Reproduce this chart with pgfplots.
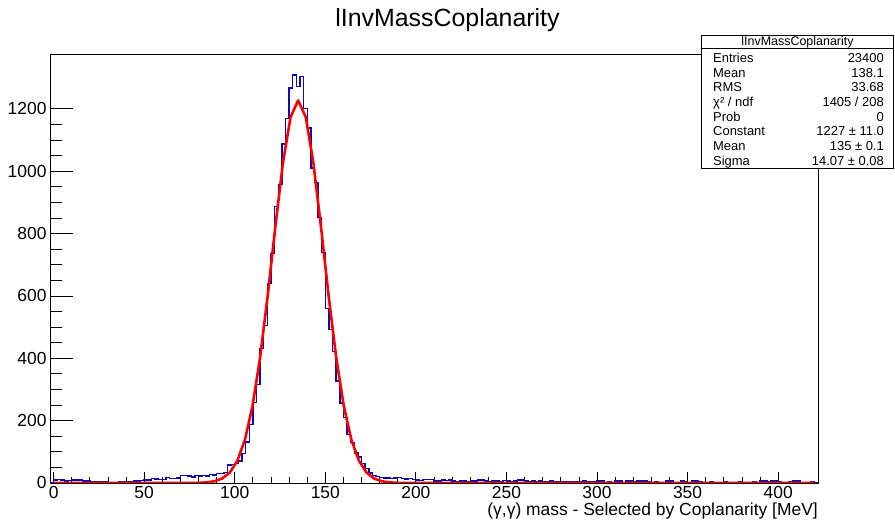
\documentclass[border=0pt]{standalone}
\usepackage{fontspec}
\setmainfont{Liberation Sans}
\usepackage{pgfplots}
\pgfplotsset{compat=1.18}
\definecolor{histblue}{RGB}{10,10,175}
\definecolor{fitred}{RGB}{255,0,0}
\begin{document}
\begin{tikzpicture}
\begin{axis}[
  scale only axis, width=768bp, height=429bp,
  xmin=-2, xmax=422, ymin=0, ymax=1376,
  axis line style={line width=0.8bp},
  tick align=inside, tick pos=left,
  xtick={0,50,...,400}, minor x tick num=4,
  ytick={0,200,...,1200}, minor y tick num=3,
  x tick style={/pgfplots/major tick length=11bp, /pgfplots/minor tick length=6bp, line width=0.8bp, black},
  y tick style={/pgfplots/major tick length=23bp, /pgfplots/minor tick length=12bp, line width=0.8bp, black},
  /pgf/number format/assume math mode=true,
  /pgf/number format/1000 sep={},
  ticklabel style={font=\fontsize{17.5}{17.5}\selectfont},
  xlabel={(γ,γ) mass - Selected by Coplanarity [MeV]},
  xlabel style={at={(rel axis cs:1,0)}, anchor=north east, inner sep=0pt, yshift=-20bp, font=\fontsize{17.5}{17.5}\selectfont},
]
% histogram, 2 MeV bins, left edges
\addplot[const plot, histblue, line width=1.4bp] coordinates {
(-2,0) (0,10) (2,11) (4,9) (6,6) (8,8) (10,10) (12,9) (14,10) (16,7) (18,6)
(20,4) (22,3) (24,4) (26,3) (28,5) (30,2) (32,1) (34,2) (36,3) (38,4)
(40,3) (42,4) (44,7) (46,6) (48,8) (50,9) (52,10) (54,14) (56,13) (58,11)
(60,12) (62,17) (64,15) (66,14) (68,16) (70,25) (72,24) (74,23) (76,19) (78,24)
(80,22) (82,25) (84,23) (86,28) (88,26) (90,30) (92,31) (94,33) (96,58) (98,60)
(100,62) (102,70) (104,95) (106,132) (108,188) (110,258) (112,316) (114,432) (116,506) (118,640)
(120,737) (122,886) (124,958) (126,1087) (128,1170) (130,1267) (132,1309) (134,1272) (136,1304) (138,1202)
(140,1138) (142,1010) (144,963) (146,852) (148,739) (150,560) (152,493) (154,421) (156,327) (158,257)
(160,210) (162,155) (164,130) (166,96) (168,83) (170,62) (172,46) (174,32) (176,24) (178,20)
(180,17) (182,16) (184,16) (186,15) (188,16) (190,17) (192,14) (194,13) (196,14) (198,12)
(200,9) (202,8) (204,12) (206,11) (208,12) (210,6) (212,7) (214,9) (216,8) (218,9)
(220,6) (222,5) (224,6) (226,7) (228,5) (230,6) (232,6) (234,9) (236,10) (238,6)
(240,5) (242,7) (244,6) (246,5) (248,8) (250,6) (252,5) (254,6) (256,9) (258,10)
(260,6) (262,5) (264,6) (266,5) (268,6) (270,5) (272,4) (274,6) (276,5) (278,4)
(280,3) (282,4) (284,3) (286,5) (288,4) (290,3) (292,6) (294,4) (296,3) (298,5)
(300,6) (302,6) (304,2) (306,3) (308,2) (310,6) (312,6) (314,2) (316,6) (318,6)
(320,5) (322,6) (324,6) (326,6) (328,3) (330,2) (332,3) (334,2) (336,1) (338,6)
(340,6) (342,2) (344,2) (346,6) (348,5) (350,2) (352,6) (354,6) (356,3) (358,1)
(360,2) (362,3) (364,2) (366,1) (368,2) (370,3) (372,2) (374,1) (376,2) (378,3)
(380,2) (382,1) (384,2) (386,3) (388,2) (390,6) (392,6) (394,5) (396,6) (398,6)
(400,3) (402,2) (404,2) (406,3) (408,6) (410,6) (412,2) (414,1) (416,2) (418,3)
(420,2) (422,2)
};
% gaussian fit as drawn (polyline)
\addplot[fitred, line width=2.6bp, line join=round] coordinates {
(0,0) (76.2,0.2) (80.4,0.66) (84.6,2.0) (88.8,5.6) (93.0,14.2) (97.2,33.2) (101.4,70.9)
(105.6,138.2) (109.8,246.7) (114.0,402.8) (118.2,601.5) (122.4,821.7) (126.6,1026.7)
(130.8,1173.5) (135.0,1227) (139.2,1173.5) (143.4,1026.7) (147.6,821.7) (151.8,601.5)
(156.0,402.8) (160.2,246.7) (164.4,138.2) (168.6,70.9) (172.8,33.2) (177.0,14.2)
(181.2,5.6) (185.4,2.0) (189.6,0.66) (193.8,0.2) (420,0)
};
\end{axis}
\begin{scope}[shift={(current axis.south west)}, x=1bp, y=1bp]
  \node[font=\fontsize{25}{25}\selectfont, inner sep=0pt, anchor=base] at (397.5,456) {lInvMassCoplanarity};
  \draw[fill=white, line width=0.8bp] (651.7,314.7) rectangle (843.3,448);
  \draw[line width=0.8bp] (651.7,434.7) -- (843.3,434.7);
  \begin{scope}[every node/.style={font=\fontsize{13}{13}\selectfont, inner sep=0pt}]
    \node[anchor=base, font=\fontsize{12.5}{12.5}\selectfont] at (747.5,437.5) {lInvMassCoplanarity};
    \node[anchor=base west] at (663,420.5) {Entries};  \node[anchor=base east] at (834,420.5) {23400};
    \node[anchor=base west] at (663,405.8) {Mean};     \node[anchor=base east] at (834,405.8) {138.1};
    \node[anchor=base west] at (663,391.1) {RMS};      \node[anchor=base east] at (834,391.1) {33.68};
    \node[anchor=base west] at (663,376.4) {χ² / ndf}; \node[anchor=base east] at (834,376.4) {1405 / 208};
    \node[anchor=base west] at (663,361.7) {Prob};     \node[anchor=base east] at (834,361.7) {0};
    \node[anchor=base west] at (663,347.0) {Constant}; \node[anchor=base east] at (834,347.0) {1227 ± 11.0};
    \node[anchor=base west] at (663,332.3) {Mean};     \node[anchor=base east] at (834,332.3) {135 ± 0.1};
    \node[anchor=base west] at (663,317.6) {Sigma};    \node[anchor=base east] at (834,317.6) {14.07 ± 0.08};
  \end{scope}
  \pgfresetboundingbox
  \path (-50,-43) rectangle (845,483);
\end{scope}
\end{tikzpicture}
\end{document}
